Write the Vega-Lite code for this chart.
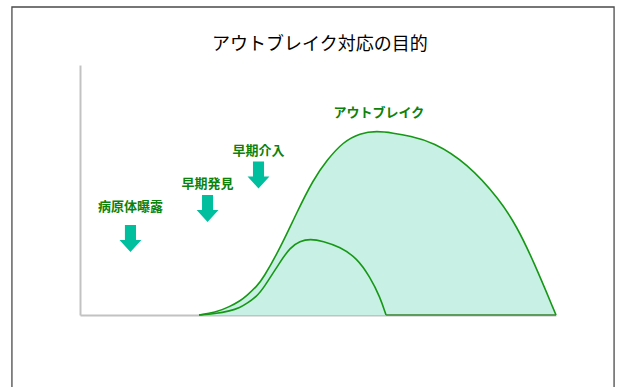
{
  "$schema": "https://vega.github.io/schema/vega-lite/v6.json",
  "width": 476,
  "height": 250,
  "autosize": "none",
  "padding": {"top": 65, "left": 80, "right": 61, "bottom": 72},
  "background": "white",
  "config": {
    "view": {"stroke": null},
    "axis": {
      "domainColor": "#c2c2c2",
      "domainWidth": 2,
      "ticks": false,
      "labels": false,
      "grid": false,
      "title": null
    }
  },
  "datasets": {
    "curves": [
      {"series": "outbreak", "t": 25.0, "v": 0},
      {"series": "outbreak", "t": 28.36, "v": 0.9},
      {"series": "outbreak", "t": 31.51, "v": 3.4},
      {"series": "outbreak", "t": 33.61, "v": 5.6},
      {"series": "outbreak", "t": 35.08, "v": 7.8},
      {"series": "outbreak", "t": 37.18, "v": 11.6},
      {"series": "outbreak", "t": 38.45, "v": 14.6},
      {"series": "outbreak", "t": 42.02, "v": 26.6},
      {"series": "outbreak", "t": 45.59, "v": 41.2},
      {"series": "outbreak", "t": 48.95, "v": 54.0},
      {"series": "outbreak", "t": 51.89, "v": 62.0},
      {"series": "outbreak", "t": 55.25, "v": 69.2},
      {"series": "outbreak", "t": 58.82, "v": 72.8},
      {"series": "outbreak", "t": 62.39, "v": 73.6},
      {"series": "outbreak", "t": 65.76, "v": 72.8},
      {"series": "outbreak", "t": 69.33, "v": 71.6},
      {"series": "outbreak", "t": 74.16, "v": 69.2},
      {"series": "outbreak", "t": 81.30, "v": 60.8},
      {"series": "outbreak", "t": 88.24, "v": 46.0},
      {"series": "outbreak", "t": 91.81, "v": 35.2},
      {"series": "outbreak", "t": 95.17, "v": 22.0},
      {"series": "outbreak", "t": 100.0, "v": 0},
      {"series": "contained", "t": 25.0, "v": 0},
      {"series": "contained", "t": 28.36, "v": 0.5},
      {"series": "contained", "t": 31.51, "v": 1.6},
      {"series": "contained", "t": 33.61, "v": 3.0},
      {"series": "contained", "t": 35.08, "v": 4.6},
      {"series": "contained", "t": 37.18, "v": 7.6},
      {"series": "contained", "t": 38.45, "v": 10.4},
      {"series": "contained", "t": 42.02, "v": 21.2},
      {"series": "contained", "t": 44.12, "v": 27.0},
      {"series": "contained", "t": 46.22, "v": 29.6},
      {"series": "contained", "t": 48.32, "v": 30.4},
      {"series": "contained", "t": 51.05, "v": 29.6},
      {"series": "contained", "t": 54.62, "v": 27.2},
      {"series": "contained", "t": 58.19, "v": 22.8},
      {"series": "contained", "t": 60.92, "v": 15.2},
      {"series": "contained", "t": 63.03, "v": 7.2},
      {"series": "contained", "t": 64.29, "v": 0}
    ],
    "events": [
      {"label": "病原体曝露", "t": 10.6, "arrow": 30.6, "labelAt": 43.2},
      {"label": "早期発見", "t": 26.8, "arrow": 42.6, "labelAt": 52.4},
      {"label": "早期介入", "t": 37.5, "arrow": 56.0, "labelAt": 65.6}
    ],
    "names": [
      {"label": "アウトブレイク", "t": 62.8, "v": 80.8}
    ]
  },
  "layer": [
    {
      "data": {"values": [{}]},
      "mark": {"type": "rect", "fill": null, "stroke": "#4a4a4a", "strokeWidth": 1.3},
      "encoding": {
        "x": {"datum": -14.3, "type": "quantitative", "scale": {"domain": [0, 100], "nice": false, "zero": false}, "axis": {"orient": "bottom"}},
        "x2": {"datum": 112.2},
        "y": {"datum": 123.2, "type": "quantitative", "scale": {"domain": [0, 100], "nice": false, "zero": false}, "axis": {"orient": "left"}},
        "y2": {"datum": -40}
      }
    },
    {
      "data": {"values": [{"heading": "アウトブレイク対応の目的", "t": 50.4, "v": 108}]},
      "mark": {"type": "text", "font": "Noto Sans CJK JP", "fontSize": 18, "color": "#000000", "baseline": "middle", "align": "center"},
      "encoding": {
        "x": {"field": "t", "type": "quantitative"},
        "y": {"field": "v", "type": "quantitative"},
        "text": {"field": "heading"}
      }
    },
    {
      "data": {"name": "curves"},
      "transform": [{"filter": "datum.series === 'outbreak'"}],
      "mark": {"type": "area", "interpolate": "basis", "color": "#c8f0e4"},
      "encoding": {
        "x": {"field": "t", "type": "quantitative"},
        "y": {"field": "v", "type": "quantitative"}
      }
    },
    {
      "data": {"values": [{"from": 64.3, "to": 100, "v": 0}]},
      "mark": {"type": "rule", "color": "#5c9c5c", "strokeWidth": 2},
      "encoding": {
        "x": {"field": "from", "type": "quantitative"},
        "x2": {"field": "to"},
        "y": {"field": "v", "type": "quantitative"}
      }
    },
    {
      "data": {"name": "curves"},
      "mark": {"type": "line", "interpolate": "basis", "color": "#169816", "strokeWidth": 1.6},
      "encoding": {
        "x": {"field": "t", "type": "quantitative"},
        "y": {"field": "v", "type": "quantitative"},
        "detail": {"field": "series"}
      }
    },
    {
      "data": {"name": "events"},
      "mark": {
        "type": "point",
        "filled": true,
        "shape": "M-0.41,-1H0.41V0.11H0.81L0,1L-0.81,0.11H-0.41Z",
        "size": 729,
        "color": "#00bf9f",
        "opacity": 1
      },
      "encoding": {
        "x": {"field": "t", "type": "quantitative"},
        "y": {"field": "arrow", "type": "quantitative"}
      }
    },
    {
      "data": {"name": "events"},
      "mark": {"type": "text", "font": "Noto Sans CJK JP", "fontSize": 13, "fontWeight": "bold", "color": "#0b820b", "baseline": "middle", "align": "center"},
      "encoding": {
        "x": {"field": "t", "type": "quantitative"},
        "y": {"field": "labelAt", "type": "quantitative"},
        "text": {"field": "label"}
      }
    },
    {
      "data": {"name": "names"},
      "mark": {"type": "text", "font": "Noto Sans CJK JP", "fontSize": 13, "fontWeight": "bold", "color": "#0b820b", "baseline": "middle", "align": "center"},
      "encoding": {
        "x": {"field": "t", "type": "quantitative"},
        "y": {"field": "v", "type": "quantitative"},
        "text": {"field": "label"}
      }
    }
  ]
}
